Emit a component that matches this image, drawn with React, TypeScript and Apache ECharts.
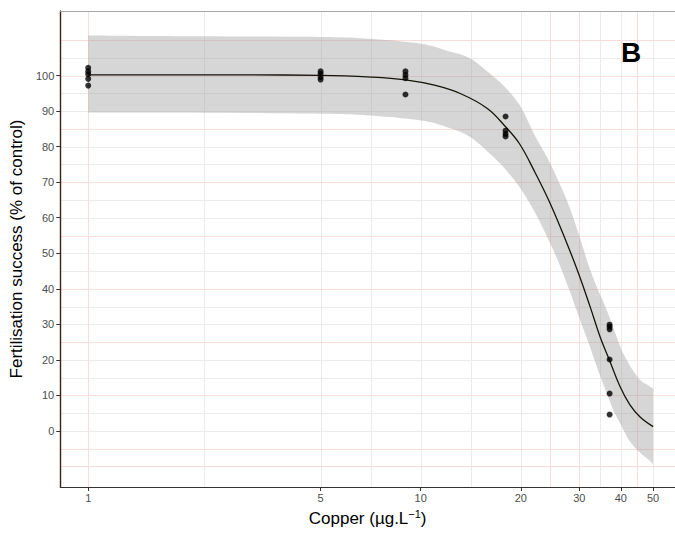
import React, { useEffect, useRef } from "react";
import * as echarts from "echarts";

// ---- data ----
const pointX = [1, 1, 1, 1, 1, 5, 5, 5, 5, 9, 9, 9, 9, 18, 18, 18, 18, 37, 37, 37, 37, 37, 37];
const pointY = [
  102.2, 101.2, 100.4, 99.1, 97.2,
  101.2, 100.5, 99.6, 98.9,
  101.2, 100.2, 99.3, 94.7,
  88.5, 84.5, 83.6, 82.9,
  29.9, 29.3, 28.6, 20.1, 10.5, 4.6,
];

const curveX = [1, 2, 3, 5, 7.1, 9, 11, 13.2, 15.9, 18, 19.8, 21.9, 24.5, 27.5, 29.9, 32.4, 34.7, 36.9, 39.8, 42.6, 45.7, 50];
const curveY = [100.2, 100.2, 100.2, 100.1, 99.6, 98.8, 97.3, 94.9, 90.7, 85.6, 80.9, 73.4, 64.1, 52.9, 44.1, 34.7, 26.3, 20.1, 12.4, 7.3, 3.9, 1.2];

const ribbonX = [1, 2, 5, 7, 10, 12, 14, 16, 18, 20, 22, 24, 26, 28, 30, 32, 34, 36, 38, 40, 42, 44, 46, 48, 50];
const ribbonUpper = [111.3, 111.1, 110.9, 110.4, 109.0, 107.0, 105.0, 100.9, 96.6, 91.2, 83.3, 77.0, 70.2, 63.1, 54.9, 46.6, 40.1, 34.8, 28.9, 23.3, 19.3, 16.3, 14.1, 13.0, 11.9];
const ribbonLower = [89.6, 89.6, 89.3, 88.8, 87.4, 85.5, 82.9, 78.4, 73.6, 68.1, 61.7, 54.6, 47.4, 39.6, 31.8, 24.7, 17.6, 11.4, 5.8, 1.7, -2.1, -4.6, -6.4, -7.8, -9.3];

const xTicks = [1, 5, 10, 20, 30, 40, 50];
const yTicks = [0, 10, 20, 30, 40, 50, 60, 70, 80, 90, 100];

const gridXLines = [1, 2.236, 5, 7.071, 10, 14.142, 20, 24.495, 30, 34.641, 40, 44.721, 50];
const gridYLines = [-10, -5, 0, 5, 10, 15, 20, 25, 30, 35, 40, 45, 50, 55, 60, 65, 70, 75, 80, 85, 90, 95, 100, 105, 110];
const pinkXLines = [1, 24.495, 30, 44.721];
const pinkYLines = [110, 100, 85, 70, 55, 40, 25, 10, -5, -10];

const X_MIN = 0.824;
const X_MAX = 58.2;
const Y_MIN = -15.8;
const Y_MAX = 118.2;

const FONT = '"Liberation Sans", Arial, sans-serif';

// Catmull-Rom densification of already-projected pixel points (rendering only)
function smoothPixels(p: number[][], steps = 10): number[][] {
  const out: number[][] = [];
  for (let i = 0; i < p.length - 1; i++) {
    const p0 = p[i - 1] || p[i];
    const p1 = p[i];
    const p2 = p[i + 1];
    const p3 = p[i + 2] || p[i + 1];
    for (let s = 0; s < steps; s++) {
      const t = s / steps;
      const t2 = t * t;
      const t3 = t2 * t;
      const f = (a: number, b: number, c: number, d: number) =>
        0.5 * (2 * b + (-a + c) * t + (2 * a - 5 * b + 4 * c - d) * t2 + (-a + 3 * b - 3 * c + d) * t3);
      out.push([f(p0[0], p1[0], p2[0], p3[0]), f(p0[1], p1[1], p2[1], p3[1])]);
    }
  }
  out.push(p[p.length - 1]);
  return out;
}

export default function App() {
  const ref = useRef<HTMLDivElement>(null);

  useEffect(() => {
    if (!ref.current) return;
    const chart = echarts.init(ref.current, null, { renderer: "svg" });

    const curveData = curveX.map((x, i) => [x, curveY[i]]);
    const pointData = pointX.map((x, i) => [x, pointY[i]]);

    const option: any = {
      animation: false,
      backgroundColor: "#ffffff",
      grid: { left: 58, top: 11, right: 0, bottom: 47, containLabel: false },
      xAxis: [
        {
          type: "log",
          logBase: 10,
          min: X_MIN,
          max: X_MAX,
          z: 5,
          axisLine: { show: true, onZero: false, lineStyle: { color: "#333333", width: 1 } },
          axisTick: { show: true, length: 4, customValues: xTicks, lineStyle: { color: "#333333" } },
          axisLabel: {
            customValues: xTicks,
            color: "#4d4d4d",
            fontSize: 11,
            fontFamily: FONT,
            margin: 5,
            formatter: (v: number) => String(Number(Number(v).toPrecision(3))),
          },
          splitLine: { show: false },
          minorSplitLine: { show: false },
          name: "{a|Copper (µg.L}{s|−1}{a|)}",
          nameLocation: "middle",
          nameGap: 21,
          nameTextStyle: {
            rich: {
              a: { fontSize: 17, color: "#000000", fontFamily: FONT, lineHeight: 20 },
              s: { fontSize: 11, color: "#000000", fontFamily: FONT, verticalAlign: "top", lineHeight: 20 },
            },
          },
        },
        {
          type: "log",
          logBase: 10,
          min: X_MIN,
          max: X_MAX,
          position: "top",
          z: 5,
          axisLine: { show: true, onZero: false, lineStyle: { color: "#a6a6a6", width: 1 } },
          axisTick: { show: false },
          axisLabel: { show: false },
          splitLine: { show: false },
        },
      ],
      yAxis: [
        {
          type: "value",
          min: Y_MIN,
          max: Y_MAX,
          z: 5,
          axisLine: { show: true, onZero: false, lineStyle: { color: "#3a2210", width: 1.4 } },
          axisTick: { show: true, length: 4, customValues: yTicks, lineStyle: { color: "#333333" } },
          axisLabel: {
            customValues: yTicks,
            color: "#4d4d4d",
            fontSize: 11,
            fontFamily: FONT,
            margin: 6,
          },
          splitLine: { show: false },
          name: "Fertilisation success (% of control)",
          nameLocation: "middle",
          nameGap: 28,
          nameTextStyle: { fontSize: 17, color: "#000000", fontFamily: FONT },
        },
      ],
      series: [
        {
          name: "grid",
          type: "custom",
          z: 1,
          silent: true,
          data: [[1, 50]],
          renderItem: (params: any, api: any) => {
            const cs = params.coordSys;
            const x0 = cs.x;
            const x1 = cs.x + cs.width;
            const y0 = cs.y;
            const y1 = cs.y + cs.height;
            const children: any[] = [];
            const vline = (v: number, color: string) => {
              const px = Math.round(api.coord([v, 50])[0]) + 0.5;
              children.push({
                type: "line",
                shape: { x1: px, y1: y0, x2: px, y2: y1 },
                style: { stroke: color, lineWidth: 1 },
              });
            };
            const hline = (v: number, color: string) => {
              const py = Math.round(api.coord([1, v])[1]) + 0.5;
              children.push({
                type: "line",
                shape: { x1: x0, y1: py, x2: x1, y2: py },
                style: { stroke: color, lineWidth: 1 },
              });
            };
            gridXLines.forEach((v) => vline(v, "#ebebeb"));
            gridYLines.forEach((v) => hline(v, "#ebebeb"));
            pinkXLines.forEach((v) => vline(v, "#fbdcdc"));
            pinkYLines.forEach((v) => hline(v, "#fbdcdc"));
            return { type: "group", children };
          },
        },
        {
          name: "ribbon",
          type: "custom",
          z: 2,
          silent: true,
          data: [[1, 100]],
          renderItem: (params: any, api: any) => {
            const up = ribbonX.map((x, i) => api.coord([x, ribbonUpper[i]]));
            const lo = ribbonX.map((x, i) => api.coord([x, ribbonLower[i]]));
            const pts = [...smoothPixels(up), ...smoothPixels(lo).reverse()];
            return {
              type: "polygon",
              shape: { points: pts },
              style: { fill: "rgba(153,153,153,0.4)" },
            };
          },
        },
        {
          name: "fit",
          type: "line",
          z: 3,
          data: curveData,
          smooth: 0.4,
          symbol: "none",
          showSymbol: false,
          lineStyle: { color: "#14140a", width: 1.3 },
          silent: true,
        },
        {
          name: "obs",
          type: "scatter",
          z: 4,
          data: pointData,
          symbol: "circle",
          symbolSize: 6,
          itemStyle: { color: "#000000" },
          silent: true,
        },
      ],
      graphic: [
        {
          type: "text",
          left: 621,
          top: 38,
          z: 10,
          style: { text: "B", font: `bold 28px ${FONT}`, fill: "#000000" },
        },
      ],
    };

    chart.setOption(option);
    return () => chart.dispose();
  }, []);

  return (
    <div
      ref={ref}
      style={{ position: "fixed", left: 0, top: 0, width: 675, height: 534, background: "#fff" }}
    />
  );
}
